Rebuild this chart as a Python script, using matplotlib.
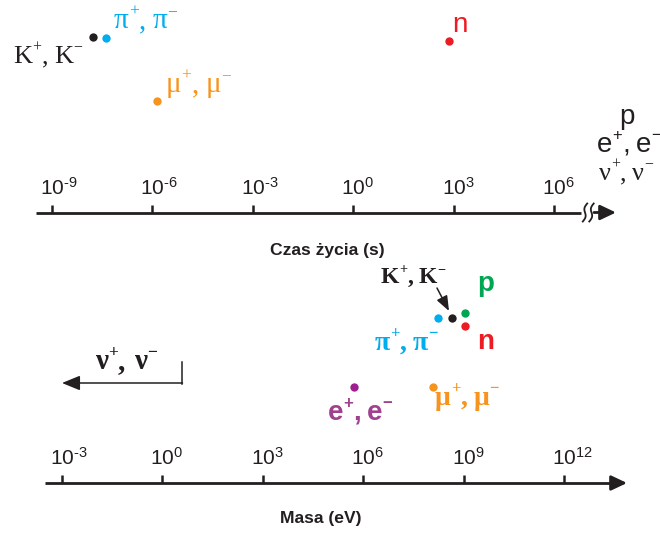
import numpy as np
import matplotlib
matplotlib.use('Agg')
import matplotlib.pyplot as plt
from matplotlib.ticker import NullLocator
from matplotlib.transforms import ScaledTranslation

plt.rcParams['font.family'] = ['Liberation Sans', 'DejaVu Sans']
plt.rcParams['mathtext.fontset'] = 'custom'
plt.rcParams['mathtext.rm'] = 'Liberation Sans'
plt.rcParams['mathtext.it'] = 'Liberation Sans:italic'
plt.rcParams['mathtext.bf'] = 'Liberation Sans:bold'
plt.rcParams['mathtext.default'] = 'rm'

# czas życia (s)
life_names = ['K', 'pi', 'mu', 'n']
life_values = [1.7e-8, 4.1e-8, 1.35e-6, 730.0]
life_ticks = [1e-9, 1e-6, 1e-3, 1e0, 1e3, 1e6]
life_labels = ['$10^{‐9}$', '$10^{‐6}$', '$10^{‐3}$', '$10^{0}$', '$10^{3}$', '$10^{6}$']

# masa (eV)
mass_names = ['e', 'mu', 'pi', 'K', 'p', 'n']
mass_values = [5.4e5, 1.19e8, 1.68e8, 4.5e8, 1.08e9, 1.08e9]
mass_ticks = [1e-3, 1e0, 1e3, 1e6, 1e9, 1e12]
mass_labels = ['$10^{‐3}$', '$10^{0}$', '$10^{3}$', '$10^{6}$', '$10^{9}$', '$10^{12}$']

# kolory i wysokości (układ rysunku)
colors = {'K': '#231f20', 'pi': '#00aeef', 'mu': '#f7941d', 'n': '#ed1c24',
          'p': '#00a651', 'e': '#9e1f8e'}
life_rows = {'K': 37.3, 'pi': 38, 'mu': 101, 'n': 41}
mass_rows = {'e': 386.7, 'mu': 386.7, 'pi': 318.3, 'K': 318, 'p': 312.7, 'n': 326}

W, H = 660, 533
PX = 33.47  # pikseli na dekadę
INK = '#231f20'
SERIF = ['Liberation Serif', 'DejaVu Serif']
SANS = ['Liberation Sans', 'DejaVu Sans']

fig = plt.figure(figsize=(6.6, 5.33), dpi=100)
renderer = fig.canvas.get_renderer()


def log_axis(zero_px, line_y, lo_px, end_px, tip_px, ticks, labels):
    ax = fig.add_axes([0, 0, 1, 1])
    ax.set_xscale('log')
    ax.set_xlim(10 ** (-zero_px / PX), 10 ** ((W - zero_px) / PX))
    ax.set_ylim(H, 0)
    ax.patch.set_visible(False)
    for s in ['left', 'right', 'bottom']:
        ax.spines[s].set_visible(False)
    px2x = lambda p: 10 ** ((p - zero_px) / PX)
    sp = ax.spines['top']
    sp.set_position(('data', line_y))
    sp.set_bounds(px2x(lo_px), px2x(end_px))
    sp.set_linewidth(2.0)
    sp.set_color(INK)
    sp.set_capstyle('butt')
    ax.xaxis.set_ticks_position('top')
    ax.set_xticks(ticks, labels)
    ax.xaxis.set_minor_locator(NullLocator())
    ax.set_yticks([])
    ax.tick_params(axis='x', direction='out', length=6, width=1.8, color=INK,
                   labelsize=15, pad=4, labelcolor=INK)
    off = ScaledTranslation(-12 / 100, 0, fig.dpi_scale_trans)
    for lab in ax.get_xticklabels():
        lab.set_horizontalalignment('left')
        lab.set_transform(lab.get_transform() + off)
    return ax, px2x


def axis_arrow(ax, px2x, start_px, tip_px, y):
    ax.annotate('', xy=(px2x(tip_px), y), xytext=(px2x(start_px), y),
                arrowprops=dict(arrowstyle='-|>,head_length=0.95,head_width=0.45',
                                mutation_scale=10, color=INK, lw=2.0,
                                shrinkA=0, shrinkB=0))


# --- górna oś: czas życia ---
ax1, life_x = log_axis(353.2, 212.5, 36, 581, 616, life_ticks, life_labels)
axis_arrow(ax1, life_x, 594, 616, 212.5)
for name, v in zip(life_names, life_values):
    ax1.plot(v, life_rows[name], 'o', ms=6, color=colors[name], mec='none')

# --- dolna oś: masa ---
ax2, mass_x = log_axis(162.4, 483, 45, 612, 627, mass_ticks, mass_labels)
axis_arrow(ax2, mass_x, 611, 627, 483)
for name, v in zip(mass_names, mass_values):
    ax2.plot(v, mass_rows[name], 'o', ms=6, color=colors[name], mec='none')

# neutrina: masa poniżej ~ kilku eV
nu_top = 10 ** 0.6
ax2.plot([nu_top, nu_top], [362, 383.5], color=INK, lw=1.1)
ax2.annotate('', xy=(1e-3, 383), xytext=(nu_top, 383),
             arrowprops=dict(arrowstyle='-|>,head_length=1.1,head_width=0.45',
                             mutation_scale=10, color=INK, lw=1.1,
                             shrinkA=0, shrinkB=0))

# warstwa na opisy (współrzędne w pikselach)
ax0 = fig.add_axes([0, 0, 1, 1])
ax0.set_xlim(0, W)
ax0.set_ylim(H, 0)
ax0.axis('off')
ax0.patch.set_visible(False)

# przerwa na osi czasu
s = np.linspace(-1, 1, 40)
for x0 in [585, 591.5]:
    ax0.plot(x0 - 2.2 * s + 1.6 * np.sin(np.pi * s), 212.5 + 9.0 * s, color=INK, lw=1.3)


def label(x, y, txt, color, size, fam, ha='left', bold=False):
    ax0.text(x, y, txt, color=color, fontsize=size, family=fam, ha=ha, va='baseline',
             fontweight='bold' if bold else 'normal')


def pair(x, y, base, color, size, fam, ha='left', bold=False, gap=0.22):
    # "X+, X-" złożone z kawałków, indeksy górne mniejsze i podniesione
    em = size * 100 / 72
    w = 'bold' if bold else 'normal'
    pieces = [(base, 1.0, 0.0), ('+', 0.6, 0.42), (',', 1.0, 0.0), (None, 0, 0),
              (base, 1.0, 0.0), ('−', 0.6, 0.42)]
    cx = 0.0
    made = []
    for txt, sc, rise in pieces:
        if txt is None:
            cx += gap * em
            continue
        t = ax0.text(x + cx, y - rise * em, txt, color=color, fontsize=size * sc,
                     family=fam, fontweight=w, ha='left', va='baseline')
        cx += t.get_window_extent(renderer).width
        made.append(t)
    if ha == 'right':
        for t in made:
            px, py = t.get_position()
            t.set_position((px - cx, py))


# opisy górne
pair(82, 63, 'K', colors['K'], 19, SERIF, ha='right')
pair(114, 28, 'π', colors['pi'], 21, SERIF)
pair(166, 92, 'μ', colors['mu'], 21, SERIF)
label(452, 32, 'n', colors['n'], 20, SANS)
label(627, 124, 'p', INK, 20, SANS, ha='center')
pair(597, 152, 'e', INK, 20, SANS)
pair(599, 180, 'ν', INK, 19, SERIF)
ax0.text(327.5, 254.5, 'Czas życia (s)', fontsize=12.6, fontweight='bold', color=INK,
         ha='center', va='baseline')

# opisy dolne
pair(95, 369, 'ν', INK, 21, SERIF, bold=True, gap=0.3)
pair(381, 283, 'K', INK, 17, SERIF, bold=True)
ax0.annotate('', xy=(449, 311), xytext=(437, 288),
             arrowprops=dict(arrowstyle='-|>,head_length=0.9,head_width=0.35',
                             mutation_scale=10, color=INK, lw=1.1, shrinkA=0, shrinkB=0))
label(477, 291, 'p', colors['p'], 20, SANS, bold=True)
label(477, 349, 'n', colors['n'], 20, SANS, bold=True)
pair(375, 350, 'π', colors['pi'], 20, SERIF, bold=True)
pair(328, 420, 'e', '#a0418f', 20, SANS, bold=True)
pair(435, 405, 'μ', colors['mu'], 20, SERIF, bold=True)
ax0.text(321, 523.5, 'Masa (eV)', fontsize=12.6, fontweight='bold', color=INK,
         ha='center', va='baseline')

fig.savefig('out.png', dpi=100)
